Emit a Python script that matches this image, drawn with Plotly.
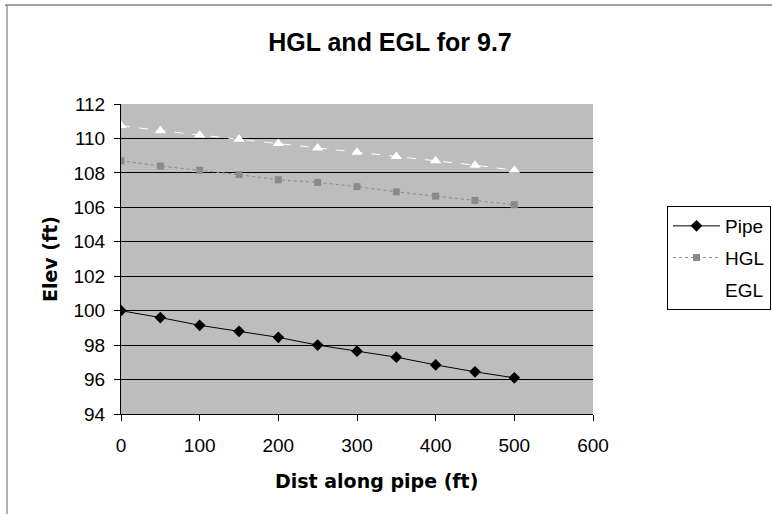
import plotly.graph_objects as go

dist = [0, 50, 100, 150, 200, 250, 300, 350, 400, 450, 500]
pipe = [100.0, 99.6, 99.15, 98.8, 98.45, 98.0, 97.65, 97.3, 96.85, 96.45, 96.1]
hgl = [108.7, 108.4, 108.15, 107.9, 107.6, 107.45, 107.2, 106.9, 106.65, 106.4, 106.15]
egl = [110.75, 110.45, 110.2, 109.95, 109.7, 109.45, 109.2, 108.95, 108.7, 108.45, 108.15]

x_ticks = [0, 100, 200, 300, 400, 500, 600]
y_ticks = [94, 96, 98, 100, 102, 104, 106, 108, 110, 112]

font = "Liberation Sans, Arial, sans-serif"
wide_bold = "DejaVu Sans, Liberation Sans, sans-serif"

fig = go.Figure()
fig.add_trace(go.Scatter(x=dist, y=pipe, name="Pipe", mode="lines+markers", legendgroup="a",
                         line=dict(color="black", width=1),
                         marker=dict(symbol="diamond", size=9, color="black")))
fig.add_trace(go.Scatter(x=dist, y=hgl, name="HGL", mode="lines+markers", legendgroup="b",
                         line=dict(color="#8a8a8a", width=1, dash="dot"),
                         marker=dict(symbol="square", size=7, color="#8a8a8a")))
fig.add_trace(go.Scatter(x=dist, y=egl, name="EGL", mode="lines+markers", legendgroup="c",
                         line=dict(color="white", width=1, dash="dash"),
                         marker=dict(symbol="triangle-up", size=10, color="white")))

fig.update_layout(
    width=772, height=514,
    margin=dict(l=121, r=179, t=104, b=100, autoexpand=False),
    paper_bgcolor="white", plot_bgcolor="#bdbdbd",
    font=dict(family=font, size=19, color="black"),
    title=dict(text="<b>HGL and EGL for 9.7</b>", x=390 / 772, xref="container", xanchor="center",
               y=1 - 42 / 514, yanchor="middle", font=dict(size=25)),
    xaxis=dict(range=[0, 600], tickvals=x_ticks, showgrid=False, zeroline=False,
               showline=True, linecolor="black", linewidth=1,
               ticks="outside", ticklen=6, tickcolor="black", ticklabelstandoff=8),
    yaxis=dict(range=[94, 112], tickvals=y_ticks, showgrid=True, gridcolor="black", gridwidth=1,
               zeroline=False, showline=True, linecolor="black", linewidth=1,
               ticks="outside", ticklen=6, tickcolor="black", ticklabelstandoff=5,
               title=dict(text="<b>Elev (ft)</b>", standoff=10,
                          font=dict(size=19, family=wide_bold))),
    legend=dict(x=(667 - 121) / 472, y=(414 - 206) / 310, xanchor="left", yanchor="top",
                bordercolor="black", borderwidth=1, bgcolor="white", itemwidth=47,
                font=dict(size=19), tracegroupgap=4),
    showlegend=True,
)

fig.add_annotation(text="<b>Dist along pipe (ft)</b>", xref="paper", yref="paper",
                   x=(376 - 121) / 472, y=(414 - 481) / 310, xanchor="center", yanchor="middle",
                   showarrow=False, font=dict(size=19, family=wide_bold))

fig.add_shape(type="line", xref="paper", yref="paper",
              x0=(5 - 121) / 472, x1=(780 - 121) / 472, y0=(414 - 5) / 310, y1=(414 - 5) / 310,
              line=dict(color="#444444", width=1))
fig.add_shape(type="line", xref="paper", yref="paper",
              x0=(7 - 121) / 472, x1=(7 - 121) / 472, y0=(414 - 5) / 310, y1=(414 - 520) / 310,
              line=dict(color="#666666", width=1))

fig.write_html("out.html")
